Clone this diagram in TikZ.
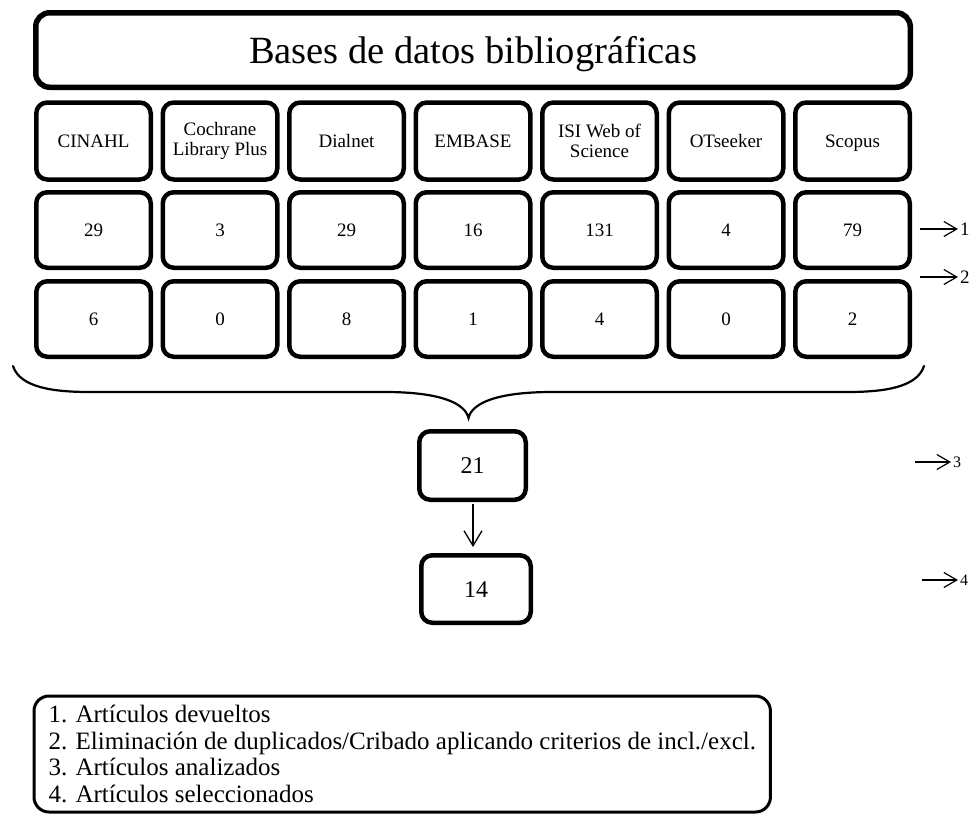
\documentclass[tikz,border=0pt]{standalone}
\usepackage{fontspec}
\setmainfont{Liberation Serif}
\usetikzlibrary{arrows.meta}
\begin{document}
\begin{tikzpicture}[x=1pt,y=1pt,
  cell/.style={draw, line width=4.5pt, rounded corners=11pt, minimum width=114.5pt,
    minimum height=75.5pt, inner sep=0pt, align=center, font=\fontsize{19}{20}\selectfont},
  one/.style={text height=13pt, text depth=0pt},
  hcell/.style={cell, minimum height=77pt},
  titlebox/.style={draw, line width=5.5pt, rounded corners=14pt, minimum width=874.5pt,
    minimum height=74.5pt, inner sep=0pt, text depth=0pt, font=\fontsize{38.5}{40}\selectfont},
  resbox/.style={draw, line width=4.5pt, rounded corners=11pt, inner sep=0pt,
    text height=16.5pt, text depth=0pt, font=\fontsize{24}{26}\selectfont},
  legendbox/.style={draw, line width=3pt, rounded corners=15pt, minimum width=736pt,
    minimum height=116pt, inner xsep=14.5pt, inner ysep=0pt, align=left,
    font=\fontsize{25}{26.7}\selectfont},
  sidelab/.style={inner sep=0pt, anchor=west, font=\fontsize{19}{20}\selectfont},
  sidearr/.style={line width=1.2pt, -{Straight Barb[length=13pt,width=15pt,line width=1.2pt]}},
  downarr/.style={line width=1.3pt, -{Straight Barb[length=15pt,width=18pt,line width=1.3pt]}},
  bracepath/.style={line width=2.2pt, line cap=round}
]
\useasboundingbox (0,0) rectangle (976,-814);

% title
\node[titlebox] (title) at (473,-50) {Bases de datos bibliográficas};

% header row
\node[hcell, one] (h1) at (93.5,-141)  {CINAHL};
\node[hcell] (h2) at (220,-141)   {Cochrane\\Library Plus};
\node[hcell, one] (h3) at (346.5,-141) {Dialnet};
\node[hcell, one] (h4) at (473,-141)   {EMBASE};
\node[hcell] (h5) at (599.5,-141) {ISI Web of\\Science};
\node[hcell, one] (h6) at (726,-141)   {OTseeker};
\node[hcell, one] (h7) at (852.5,-141) {Scopus};

% returned articles
\node[cell, one] (a1) at (93.5,-230)  {29};
\node[cell, one] (a2) at (220,-230)   {3};
\node[cell, one] (a3) at (346.5,-230) {29};
\node[cell, one] (a4) at (473,-230)   {16};
\node[cell, one] (a5) at (599.5,-230) {131};
\node[cell, one] (a6) at (726,-230)   {4};
\node[cell, one] (a7) at (852.5,-230) {79};

% after screening
\node[cell, one] (b1) at (93.5,-319)  {6};
\node[cell, one] (b2) at (220,-319)   {0};
\node[cell, one] (b3) at (346.5,-319) {8};
\node[cell, one] (b4) at (473,-319)   {1};
\node[cell, one] (b5) at (599.5,-319) {4};
\node[cell, one] (b6) at (726,-319)   {0};
\node[cell, one] (b7) at (852.5,-319) {2};

% brace
\draw[bracepath] (13,-366) .. controls (20,-388) and (55,-392) .. (90,-392)
  -- (385,-392) .. controls (440,-392) and (465,-403) .. (468.5,-418)
  .. controls (472,-403) and (497,-392) .. (552,-392)
  -- (847,-392) .. controls (882,-392) and (917,-388) .. (924,-366);

% results
\node[resbox, minimum width=106.5pt, minimum height=68.5pt] (n21) at (472.5,-465.5) {21};
\node[resbox, minimum width=109.5pt, minimum height=67.5pt] (n14) at (476,-589) {14};
\draw[downarr, shorten <=2pt, shorten >=6pt] ([xshift=0.5pt]n21.south) -- ([xshift=0.5pt]n21.south |- n14.north);

% side markers
\coordinate (s1) at (920,-229);
\coordinate (s2) at (920,-277);
\coordinate (s3) at (915,-462);
\coordinate (s4) at (922,-580);
\node[sidelab] (l1) at (960,-229) {1};
\node[sidelab] (l2) at (960,-277) {2};
\node[sidelab, font=\fontsize{16}{18}\selectfont] (l3) at (953,-462) {3};
\node[sidelab, font=\fontsize{16}{18}\selectfont] (l4) at (960,-580) {4};
\draw[sidearr, shorten >=2pt] (s1) -- (l1.west);
\draw[sidearr, shorten >=2pt] (s2) -- (l2.west);
\draw[sidearr, shorten >=2pt] (s3) -- (l3.west);
\draw[sidearr, shorten >=2pt] (s4) -- (l4.west);

% legend
\node[legendbox, anchor=north west] (legend) at (32.5,-694.5) {1. Artículos devueltos\\
2. Eliminación de duplicados/Cribado aplicando criterios de incl./excl.\\
3. Artículos analizados\\
4. Artículos seleccionados};
\end{tikzpicture}
\end{document}
